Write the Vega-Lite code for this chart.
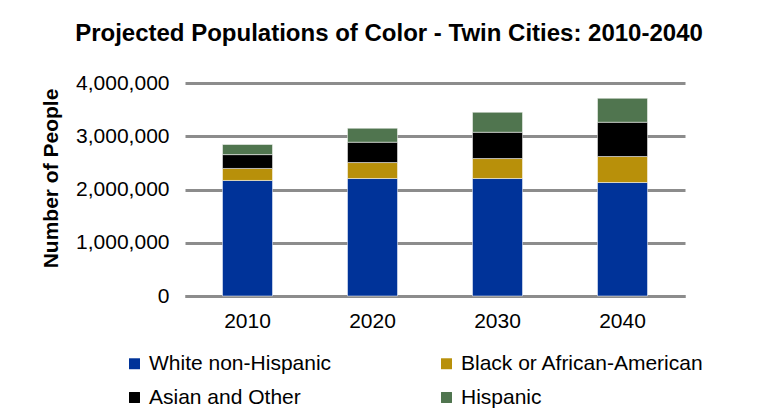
{
  "$schema": "https://vega.github.io/schema/vega-lite/v6.json",
  "width": 500,
  "height": 213,
  "autosize": "none",
  "padding": {"left": 185, "top": 83, "right": 90, "bottom": 117},
  "background": "white",
  "config": {
    "font": "Liberation Sans",
    "view": {"stroke": null}
  },
  "title": {
    "text": "Projected Populations of Color - Twin Cities: 2010-2040",
    "fontSize": 24,
    "fontWeight": "bold",
    "font": "Liberation Sans",
    "color": "black",
    "anchor": "middle",
    "offset": 26,
    "dx": -46
  },
  "data": {
    "values": [
      {"year": "2010", "group": "White non-Hispanic", "order": 1, "people": 2170000},
      {"year": "2010", "group": "Black or African-American", "order": 2, "people": 225000},
      {"year": "2010", "group": "Asian and Other", "order": 3, "people": 260000},
      {"year": "2010", "group": "Hispanic", "order": 4, "people": 190000},
      {"year": "2020", "group": "White non-Hispanic", "order": 1, "people": 2206000},
      {"year": "2020", "group": "Black or African-American", "order": 2, "people": 300000},
      {"year": "2020", "group": "Asian and Other", "order": 3, "people": 382000},
      {"year": "2020", "group": "Hispanic", "order": 4, "people": 262000},
      {"year": "2030", "group": "White non-Hispanic", "order": 1, "people": 2206000},
      {"year": "2030", "group": "Black or African-American", "order": 2, "people": 375000},
      {"year": "2030", "group": "Asian and Other", "order": 3, "people": 494000},
      {"year": "2030", "group": "Hispanic", "order": 4, "people": 375000},
      {"year": "2040", "group": "White non-Hispanic", "order": 1, "people": 2131000},
      {"year": "2040", "group": "Black or African-American", "order": 2, "people": 488000},
      {"year": "2040", "group": "Asian and Other", "order": 3, "people": 644000},
      {"year": "2040", "group": "Hispanic", "order": 4, "people": 450000}
    ]
  },
  "mark": {"type": "bar", "stroke": "white", "strokeWidth": 0.5},
  "encoding": {
    "x": {
      "field": "year",
      "type": "nominal",
      "scale": {"paddingInner": 0.6, "paddingOuter": 0.3},
      "axis": {
        "title": null,
        "labelAngle": 0,
        "labelFontSize": 21,
        "labelColor": "black",
        "labelPadding": 14,
        "ticks": false,
        "domainColor": "#8c8c8c",
        "domainWidth": 3
      }
    },
    "y": {
      "field": "people",
      "type": "quantitative",
      "aggregate": "sum",
      "stack": "zero",
      "scale": {"domain": [0, 4000000]},
      "axis": {
        "title": "Number of People",
        "titleFontSize": 21,
        "titleFontWeight": "bold",
        "titleColor": "black",
        "titlePadding": 14,
        "titleY": 95,
        "values": [0, 1000000, 2000000, 3000000, 4000000],
        "format": ",d",
        "labelFontSize": 21,
        "labelColor": "black",
        "labelPadding": 16,
        "ticks": false,
        "domain": false,
        "gridColor": "#8c8c8c",
        "gridWidth": 3,
        "gridOpacity": 1
      }
    },
    "color": {
      "field": "group",
      "type": "nominal",
      "scale": {
        "domain": ["White non-Hispanic", "Black or African-American", "Asian and Other", "Hispanic"],
        "range": ["#003399", "#B8900A", "#000000", "#50754F"]
      },
      "legend": {
        "title": null,
        "orient": "none",
        "legendX": -61,
        "legendY": 270,
        "direction": "horizontal",
        "columns": 2,
        "columnPadding": 104,
        "rowPadding": 12,
        "symbolType": "square",
        "symbolSize": 120,
        "symbolStrokeWidth": 0,
        "symbolOpacity": 1,
        "labelFontSize": 21,
        "labelColor": "black",
        "labelOffset": 4,
        "labelLimit": 300
      }
    },
    "order": {"field": "order", "type": "quantitative", "sort": "ascending"}
  }
}
